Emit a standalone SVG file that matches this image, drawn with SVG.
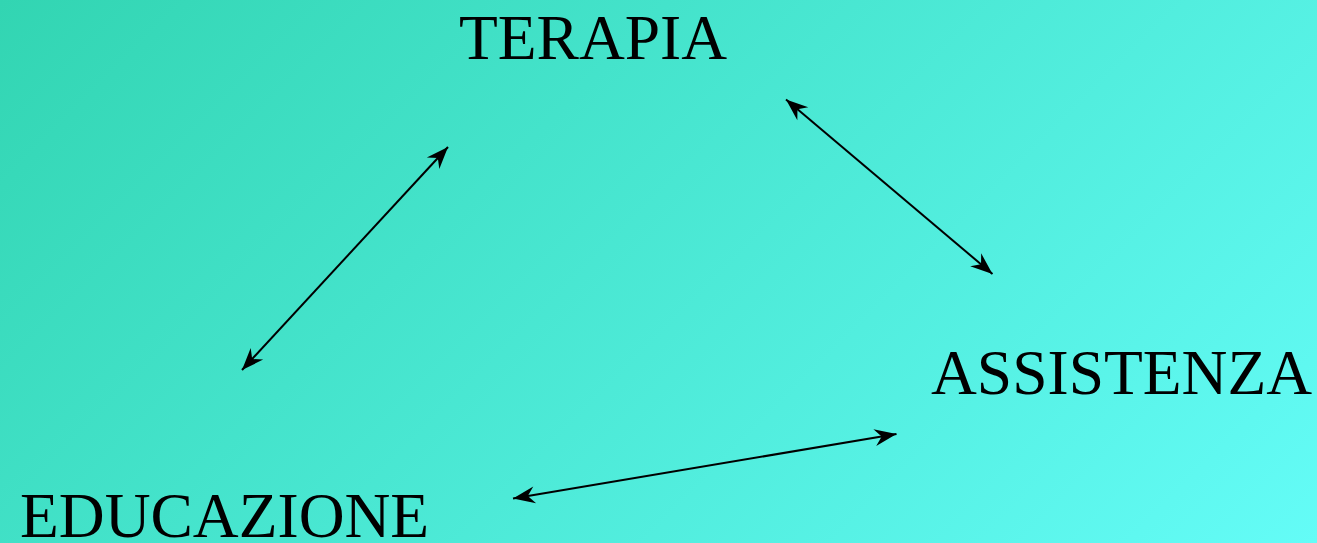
<svg xmlns="http://www.w3.org/2000/svg" width="1317" height="543" viewBox="0 0 1317 543">
  <defs>
    <linearGradient id="bg" x1="0" y1="0" x2="930" y2="930" gradientUnits="userSpaceOnUse">
      <stop offset="0" stop-color="#32D5B2"/>
      <stop offset="1" stop-color="#64FCF7"/>
    </linearGradient>
    <marker id="ah" markerUnits="userSpaceOnUse" markerWidth="26" markerHeight="22" viewBox="-24 -11 26 22" refX="0" refY="0" orient="auto-start-reverse">
      <path d="M0,0 L-22,-8.5 L-15,0 L-22,8.5 Z" fill="#000"/>
    </marker>
    <style>
      .lbl { font-family: "Liberation Serif", "Times New Roman", serif; font-size: 63.5px; fill: #000; }
      .con { stroke: #000; stroke-width: 2; fill: none; marker-start: url(#ah); marker-end: url(#ah); }
    </style>
  </defs>
  <rect x="0" y="0" width="1317" height="543" fill="url(#bg)"/>
  <g id="connectors">
    <line class="con" x1="242" y1="370" x2="448" y2="147"/>
    <line class="con" x1="513" y1="498.5" x2="896.5" y2="434"/>
    <line class="con" x1="786" y1="99.5" x2="992.5" y2="274"/>
  </g>
  <g id="terapia"><text class="lbl" x="459" y="59">TERAPIA</text></g>
  <g id="assistenza"><text class="lbl" x="931" y="394">ASSISTENZA</text></g>
  <g id="educazione"><text class="lbl" x="20" y="537">EDUCAZIONE</text></g>
</svg>
